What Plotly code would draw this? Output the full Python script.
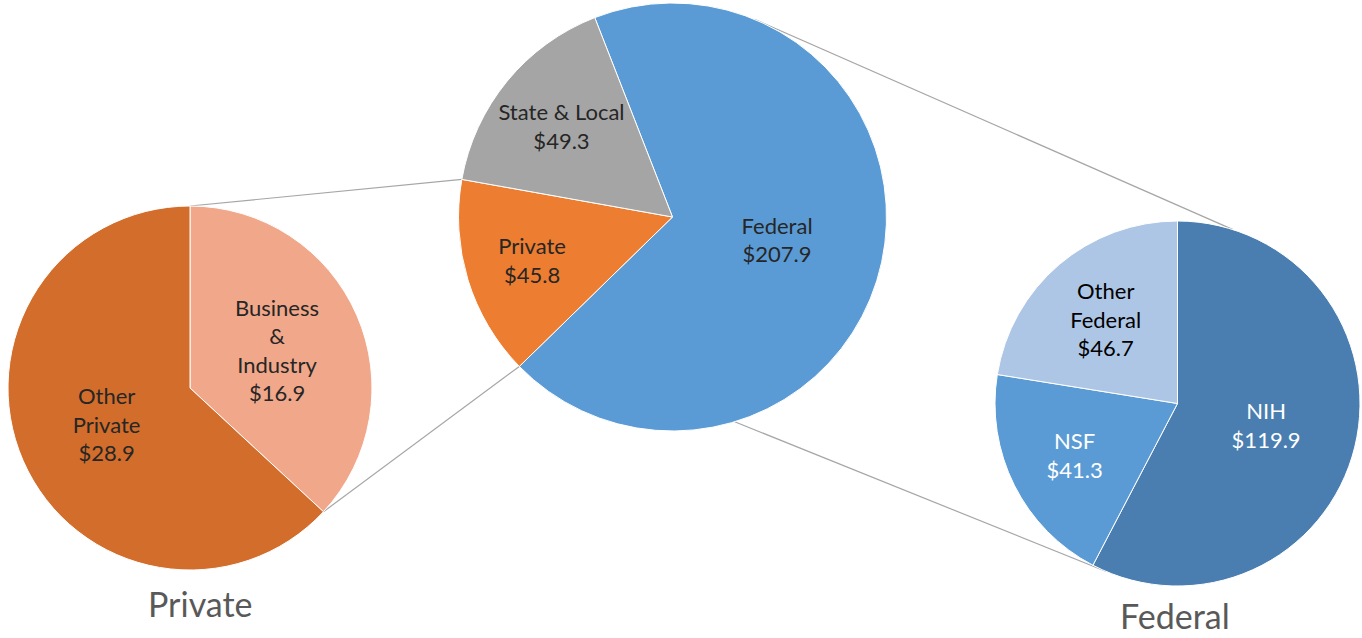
import math
import plotly.graph_objects as go

W, H = 1362, 638

# ---------------- data ----------------
main_labels = ["Federal", "Private", "State & Local"]
main_values = [207.9, 45.8, 49.3]
main_text = ["Federal", "Private", "State & Local"]

private_labels = ["Business & Industry", "Other Private"]
private_values = [16.9, 28.9]
private_text = ["Business<br>&<br>Industry", "Other<br>Private"]

federal_labels = ["NIH", "NSF", "Other Federal"]
federal_values = [119.9, 41.3, 46.7]
federal_text = ["NIH", "NSF", "Other<br>Federal"]

chart_titles = ["Private", "Federal"]

# ---------------- layout / style (window pixels) ----------------
FONT = "Lato, 'Open Sans', sans-serif"
MAIN = dict(cx=672.5, cy=217, r=214, rot=-21.3)
PRIV = dict(cx=190, cy=388, r=182, rot=0)
FED = dict(cx=1177.5, cy=403.5, r=182.5, rot=0)

main_colors = ["#5B9BD5", "#ED7D31", "#A5A5A5"]
main_txtcol = ["#262626", "#262626", "#262626"]
private_colors = ["#F1A88A", "#D26D2B"]
private_txtcol = ["#262626", "#262626"]
federal_colors = ["#4A7EB0", "#5B9BD5", "#AEC6E6"]
federal_txtcol = ["#FFFFFF", "#FFFFFF", "#000000"]
LINE_COL = "#A6A6A6"


def px2paper(px, py):
    return px / W, 1 - py / H


def dom(p):
    x0, y1 = px2paper(p["cx"] - p["r"], p["cy"] - p["r"])
    x1, y0 = px2paper(p["cx"] + p["r"], p["cy"] + p["r"])
    return dict(x=[max(0, x0), min(1, x1)], y=[max(0, y0), min(1, y1)])


def edge(p, ang):
    a = math.radians(ang)
    return px2paper(p["cx"] + p["r"] * math.sin(a), p["cy"] - p["r"] * math.cos(a))


def boundaries(p, values):
    tot = sum(values)
    out, c = [p["rot"]], 0
    for v in values:
        c += v
        out.append(p["rot"] + 360 * c / tot)
    return out


def pie(p, labels, values, text, colors, txtcol):
    return go.Pie(
        labels=labels, values=values, text=text,
        texttemplate="%{text}<br>$%{value:.1f}",
        textposition="inside", insidetextorientation="horizontal",
        insidetextfont=dict(family=FONT, size=22, color=txtcol),
        marker=dict(colors=colors, line=dict(color="white", width=1)),
        sort=False, direction="clockwise", rotation=p["rot"],
        domain=dom(p), showlegend=False, hoverinfo="label+value",
    )


fig = go.Figure()
fig.add_trace(pie(MAIN, main_labels, main_values, main_text, main_colors, main_txtcol))
fig.add_trace(pie(PRIV, private_labels, private_values, private_text, private_colors, private_txtcol))
fig.add_trace(pie(FED, federal_labels, federal_values, federal_text, federal_colors, federal_txtcol))

mb = boundaries(MAIN, main_values)
pb = boundaries(PRIV, private_values)
connectors = [
    (PRIV, pb[0], MAIN, mb[2]),
    (PRIV, pb[1], MAIN, mb[1]),
    (MAIN, 22.5, FED, 17.7),
    (MAIN, 163.1, FED, 203.0),
]
shapes = []
for p1, a1, p2, a2 in connectors:
    x0, y0 = edge(p1, a1)
    x1, y1 = edge(p2, a2)
    shapes.append(dict(type="line", xref="paper", yref="paper", x0=x0, y0=y0, x1=x1, y1=y1,
                       line=dict(color=LINE_COL, width=1.2), layer="below"))

annotations = []
for txt, (tx, ty) in zip(chart_titles, [(200, 603), (1175, 615)]):
    ax, ay = px2paper(tx, ty)
    annotations.append(dict(text=txt, x=ax, y=ay, xref="paper", yref="paper", showarrow=False,
                            xanchor="center", yanchor="middle",
                            font=dict(family=FONT, size=34, color="#595959")))

fig.update_layout(
    width=W, height=H, margin=dict(l=0, r=0, t=0, b=0),
    paper_bgcolor="white", plot_bgcolor="white",
    shapes=shapes, annotations=annotations,
)

fig.write_html("out.html", config={"displayModeBar": False},
               post_script="document.body.style.margin='0';document.body.style.overflow='hidden';")
